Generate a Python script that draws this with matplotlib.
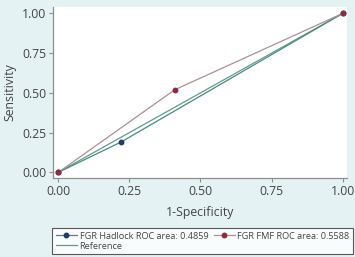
import matplotlib.pyplot as plt
from matplotlib.lines import Line2D

hadlock_x = [0.0, 0.22, 1.0]
hadlock_y = [0.0, 0.19, 1.0]
fmf_x = [0.0, 0.41, 1.0]
fmf_y = [0.0, 0.52, 1.0]
ref = [0.0, 1.0]
ticks = [0.0, 0.25, 0.5, 0.75, 1.0]
tick_labels = ['0.00', '0.25', '0.50', '0.75', '1.00']

bg = '#e4f2f3'
plt.rcParams['font.family'] = ['Open Sans', 'DejaVu Sans']

fig = plt.figure(figsize=(3.55, 2.57), dpi=100, facecolor=bg)
ax = fig.add_axes([53 / 355, 1 - 178 / 257, 294 / 355, 171 / 257])
ax.set_facecolor('white')

ax.plot(ref, ref, color='#5e9e8a', lw=0.9, zorder=2)
ax.plot(hadlock_x, hadlock_y, color='#4d8784', lw=0.9, zorder=3)
ax.plot(hadlock_x, hadlock_y, ls='none', marker='o', ms=3.2, color='#1a3f66', zorder=4)
ax.plot(fmf_x, fmf_y, color='#a89296', lw=0.9, zorder=3)
ax.plot(fmf_x, fmf_y, ls='none', marker='o', ms=3.2, color='#8c2a3e', zorder=5)

ax.set_xlim(-0.018, 1.015)
ax.set_ylim(-0.035, 1.04)
ax.set_xticks(ticks)
ax.set_xticklabels(tick_labels)
ax.set_yticks(ticks)
ax.set_yticklabels(tick_labels)
for s in ['top', 'right']:
    ax.spines[s].set_visible(False)
for s in ['left', 'bottom']:
    ax.spines[s].set_color('#8a8f90')
    ax.spines[s].set_linewidth(0.9)
ax.tick_params(colors='#8a8f90', labelcolor='#444444', labelsize=8.8, length=3, width=0.8, pad=2)
ax.set_xlabel('1-Specificity', fontsize=8.8, color='#444444', labelpad=6)
ax.set_ylabel('Sensitivity', fontsize=8.8, color='#444444', labelpad=4)

h_had = Line2D([], [], color='#4d8784', lw=0.9, marker='o', ms=3.2, mfc='#1a3f66', mec='#1a3f66')
h_fmf = Line2D([], [], color='#a89296', lw=0.9, marker='o', ms=3.2, mfc='#8c2a3e', mec='#8c2a3e')
h_ref = Line2D([], [], color='#5e9e8a', lw=0.9)
# column-wise fill: Hadlock / Reference in col 1, FMF in col 2
handles = [h_had, h_ref, h_fmf]
labels = ['FGR Hadlock ROC area: 0.4859', 'Reference', 'FGR FMF ROC area: 0.5588']
leg = fig.legend(handles, labels, loc='upper left', bbox_to_anchor=(52 / 355, 1 - 228 / 257),
                 ncol=2, fontsize=6.6, frameon=True, fancybox=False, handlelength=2.3,
                 handletextpad=0.3, columnspacing=0.6, borderpad=0.4, labelspacing=0.1,
                 borderaxespad=0)
leg.get_frame().set_edgecolor('#333333')
leg.get_frame().set_linewidth(0.8)
for t in leg.get_texts():
    t.set_color('#444444')

fig.savefig('out.png', dpi=100, facecolor=bg)
